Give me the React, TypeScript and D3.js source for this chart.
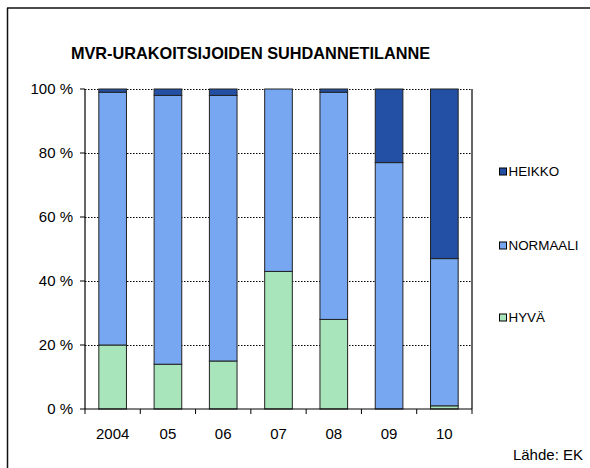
import React from "react";
import * as d3 from "d3";

const categories = ["2004", "05", "06", "07", "08", "09", "10"];
const hyva = [20, 14, 15, 43, 28, 0, 1];
const normaali = [79, 84, 83, 57, 71, 77, 46];
const heikko = [1, 2, 2, 0, 1, 23, 53];
const seriesNames = ["HYVÄ", "NORMAALI", "HEIKKO"];
const yTicks = [0, 20, 40, 60, 80, 100];

const colors: Record<string, string> = {
  "HYVÄ": "#a9e5ba",
  NORMAALI: "#78a7f2",
  HEIKKO: "#2350a5",
};

const W = 590;
const H = 468;
const left = 85;
const right = 472;
const top = 89;
const bottom = 409;
const font = "'Liberation Sans', Arial, sans-serif";

export default function App() {
  const x = d3.scaleBand<string>().domain(categories).range([left, right]).paddingInner(0.5).paddingOuter(0.25);
  const y = d3.scaleLinear().domain([0, 100]).range([bottom, top]);

  const rows = categories.map((c, i) => ({ cat: c, "HYVÄ": hyva[i], NORMAALI: normaali[i], HEIKKO: heikko[i] }));
  const stacked = d3.stack<any>().keys(seriesNames)(rows);
  const step = (right - left) / categories.length;

  const legendY: Record<string, number> = { HEIKKO: 171.5, NORMAALI: 245.5, "HYVÄ": 317.5 };

  return (
    <svg width={W} height={H} style={{ position: "absolute", left: 0, top: 0, background: "#fff" }} fontFamily={font}>
      <rect x={0} y={0} width={W} height={H} fill="#fff" />
      <line x1={7} y1={8} x2={W} y2={8} stroke="#111" strokeWidth={1.5} />
      <line x1={7.5} y1={8} x2={7.5} y2={H} stroke="#111" strokeWidth={1.5} />
      <text x={250.5} y={59} textAnchor="middle" fontSize={16.3} fontWeight="bold" fill="#000">
        MVR-URAKOITSIJOIDEN SUHDANNETILANNE
      </text>
      {yTicks.filter((t) => t > 0).map((t) => (
        <line key={"g" + t} x1={left} x2={right} y1={Math.round(y(t)) + 0.5} y2={Math.round(y(t)) + 0.5}
          stroke="#000" strokeWidth={1} strokeDasharray="1.5,1.5" />
      ))}
      {stacked.map((s) => (
        <g key={s.key}>
          {s.map((d: any, i: number) => {
            const h = y(d[0]) - y(d[1]);
            if (h <= 0) return null;
            return (
              <rect key={i} x={x(categories[i])!} y={y(d[1])} width={x.bandwidth()} height={h}
                fill={colors[s.key]} stroke="#222" strokeWidth={1} />
            );
          })}
        </g>
      ))}
      <line x1={left} x2={left} y1={top} y2={bottom} stroke="#000" strokeWidth={1.2} />
      <line x1={right} x2={right} y1={top} y2={bottom} stroke="#000" strokeWidth={1.2} />
      <line x1={left} x2={right} y1={bottom} y2={bottom} stroke="#000" strokeWidth={1.2} />
      {yTicks.map((t) => (
        <g key={"y" + t}>
          <line x1={left - 5} x2={left} y1={y(t)} y2={y(t)} stroke="#000" strokeWidth={1} />
          <text x={73} y={y(t) + 5.3} textAnchor="end" fontSize={15} fill="#000">{t} %</text>
        </g>
      ))}
      {d3.range(categories.length + 1).map((i) => (
        <line key={"xt" + i} x1={left + i * step} x2={left + i * step} y1={bottom} y2={bottom + 5} stroke="#000" strokeWidth={1} />
      ))}
      {categories.map((c) => (
        <text key={"xl" + c} x={x(c)! + x.bandwidth() / 2} y={438.5} textAnchor="middle" fontSize={15} fill="#000">{c}</text>
      ))}
      {seriesNames.map((n) => (
        <g key={"lg" + n}>
          <rect x={499.5} y={legendY[n] - 3.5} width={7} height={7} fill={colors[n]} stroke="#000" strokeWidth={1} />
          <text x={508.5} y={legendY[n] + 4.5} fontSize={13.4} fill="#000">{n}</text>
        </g>
      ))}
      <text x={583} y={460} textAnchor="end" fontSize={15} fill="#000">Lähde: EK</text>
    </svg>
  );
}
